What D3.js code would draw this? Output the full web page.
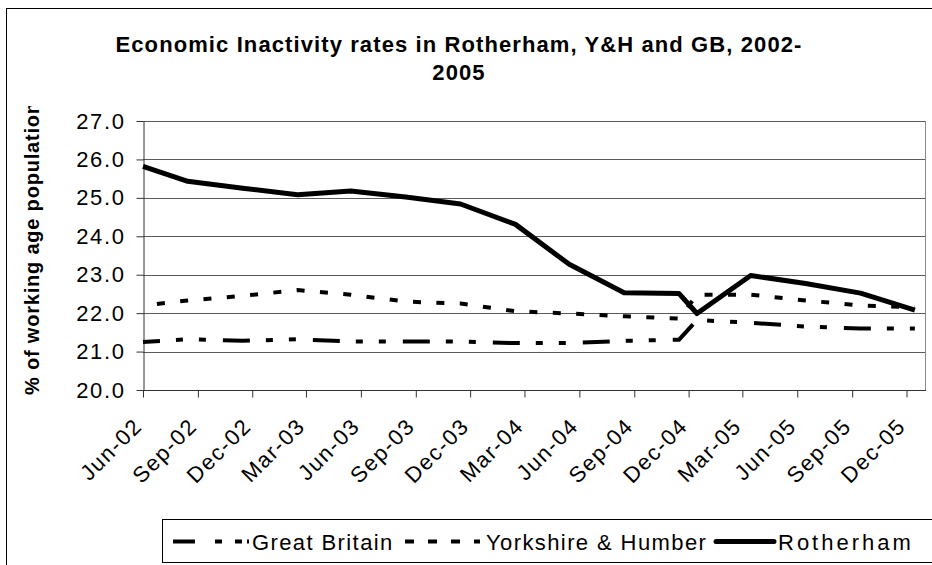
<!DOCTYPE html>
<html><head><meta charset="utf-8">
<script src="https://cdn.jsdelivr.net/npm/d3@7"></script>
<style>
html,body{margin:0;padding:0;background:#fff;}
svg{display:block;}
text{font-family:"Liberation Sans",Arial,sans-serif;fill:#000;}
</style></head><body>
<svg id="chart" width="932" height="565"></svg>
<script>
// ---- data ----
const titleLines = ["Economic Inactivity rates in Rotherham, Y&H and GB, 2002-", "2005"];
const yAxisTitle = "% of working age population";
const tickLabels = ["Jun-02","Sep-02","Dec-02","Mar-03","Jun-03","Sep-03","Dec-03","Mar-04","Jun-04","Sep-04","Dec-04","Mar-05","Jun-05","Sep-05","Dec-05"];
const yTicks = [20,21,22,23,24,25,26,27];
const dates = ["2002-06-01","2002-08-15","2002-11-15","2003-02-15","2003-05-15","2003-08-15","2003-11-15","2004-02-15","2004-05-15","2004-08-15","2004-11-15","2004-12-15","2005-03-15","2005-06-15","2005-09-15","2005-12-15"];
const greatBritain    = [21.25,21.32,21.28,21.32,21.26,21.26,21.26,21.22,21.22,21.28,21.31,21.82,21.75,21.65,21.60,21.60];
const yorkshireHumber = [22.20,22.33,22.45,22.60,22.48,22.30,22.25,22.05,21.99,21.92,21.86,22.48,22.48,22.33,22.20,22.15];
const rotherham       = [25.82,25.43,25.25,25.08,25.18,25.02,24.84,24.31,23.27,22.53,22.51,21.99,22.98,22.77,22.52,22.08];
const seriesNames = ["Great Britain","Yorkshire & Humber","Rotherham"];

// ---- layout ----
const svg = d3.select("#chart");
const parseDate = d3.timeParse("%Y-%m-%d");
const parseTick = d3.timeParse("%b-%y");
const plot = {left:143, right:925, top:121, bottom:390};

const x = d3.scaleTime()
  .domain([parseTick("Jun-02"), new Date(2006,0,1)])
  .range([plot.left, plot.right]);
const y = d3.scaleLinear().domain([20,27]).range([plot.bottom, plot.top]);

// outer chart border
svg.append("rect").attr("x",6.5).attr("y",8.5).attr("width",940).attr("height",570)
  .attr("fill","none").attr("stroke","#000").attr("stroke-width",1);

// title
svg.append("g").selectAll("text").data(titleLines).join("text")
  .attr("x",459).attr("y",(d,i)=>52+i*28)
  .attr("text-anchor","middle")
  .style("font-size","22px").style("font-weight","bold").style("letter-spacing","1.1px")
  .text(d=>d);

// gridlines
svg.append("g").selectAll("line").data(yTicks.filter(v=>v>20)).join("line")
  .attr("x1",plot.left).attr("x2",plot.right)
  .attr("y1",d=>Math.round(y(d))+0.5).attr("y2",d=>Math.round(y(d))+0.5)
  .attr("stroke","#5a5a5a").attr("stroke-width",1);
// plot right border
svg.append("line").attr("x1",plot.right+0.5).attr("x2",plot.right+0.5)
  .attr("y1",plot.top).attr("y2",plot.bottom).attr("stroke","#8a8a8a");

// y axis
const yAxis = svg.append("g").attr("transform",`translate(${plot.left+0.5},0)`)
  .call(d3.axisLeft(y).tickValues(yTicks).tickFormat(d3.format(".1f")).tickSize(7).tickPadding(11).tickSizeOuter(0));
yAxis.select(".domain").attr("stroke","#333");
yAxis.selectAll(".tick line").attr("stroke","#333");
yAxis.selectAll(".tick text").style("font-size","22px").style("letter-spacing","1.6px").attr("font-family",null);

// x axis
const xAxis = svg.append("g").attr("transform",`translate(0,${plot.bottom+0.5})`)
  .call(d3.axisBottom(x).tickValues(tickLabels.map(parseTick)).tickFormat(d3.timeFormat("%b-%y")).tickSize(7).tickSizeOuter(0));
xAxis.select(".domain").attr("stroke","#333").attr("d",`M${plot.left},0H${plot.right+1}`);
xAxis.selectAll(".tick text")
  .attr("x",0).attr("y",0).attr("dy",0)
  .attr("transform","translate(0,37) rotate(-45)")
  .style("text-anchor","end").style("font-size","22px").style("letter-spacing","1.6px").attr("font-family",null);
xAxis.selectAll(".tick line").attr("stroke","#333");

// y axis title (clipped at top like the original)
svg.append("clipPath").attr("id","ytclip").append("rect").attr("x",0).attr("y",106).attr("width",80).attr("height",300);
svg.append("g").attr("clip-path","url(#ytclip)")
  .append("text")
  .attr("transform","translate(39,395) rotate(-90)")
  .attr("text-anchor","start")
  .style("font-size","20px").style("font-weight","bold").style("letter-spacing","0.8px")
  .text(yAxisTitle);

// lines
const mk = vals => vals.map((v,i)=>({date:parseDate(dates[i]), v}));
const line = d3.line().x(d=>x(d.date)).y(d=>y(d.v));
svg.append("path").datum(mk(greatBritain)).attr("d",line)
  .attr("fill","none").attr("stroke","#000").attr("stroke-width",4)
  .attr("stroke-dasharray","27,16,7,16,7,17").attr("stroke-dashoffset",10);
svg.append("path").datum(mk(yorkshireHumber)).attr("d",line)
  .attr("fill","none").attr("stroke","#000").attr("stroke-width",4)
  .attr("stroke-dasharray","8,15.4").attr("stroke-dashoffset",9.4);
svg.append("path").datum(mk(rotherham)).attr("d",line)
  .attr("fill","none").attr("stroke","#000").attr("stroke-width",5)
  .attr("stroke-linejoin","round");

// legend
const lg = svg.append("g");
lg.append("rect").attr("x",162.5).attr("y",519.5).attr("width",800).attr("height",43)
  .attr("fill","#fff").attr("stroke","#000");
const legendItems = [
  {name:seriesNames[0], x1:173, x2:249, w:4, dash:"22,20,7,13,7,5", cap:"butt", tx:252, ls:1.4},
  {name:seriesNames[1], x1:405, x2:480, w:4, dash:"9,14", cap:"butt", tx:486, ls:1.4},
  {name:seriesNames[2], x1:716, x2:774, w:5, dash:null, cap:"round", tx:778, ls:3.0}
];
const ly = 541.5;
legendItems.forEach(it=>{
  lg.append("line").attr("x1",it.x1).attr("x2",it.x2).attr("y1",ly).attr("y2",ly)
    .attr("stroke","#000").attr("stroke-width",it.w).attr("stroke-dasharray",it.dash)
    .attr("stroke-linecap",it.cap);
  lg.append("text").attr("x",it.tx).attr("y",ly+8)
    .style("font-size","22px").style("letter-spacing",it.ls+"px").text(it.name);
});
</script>
</body></html>
